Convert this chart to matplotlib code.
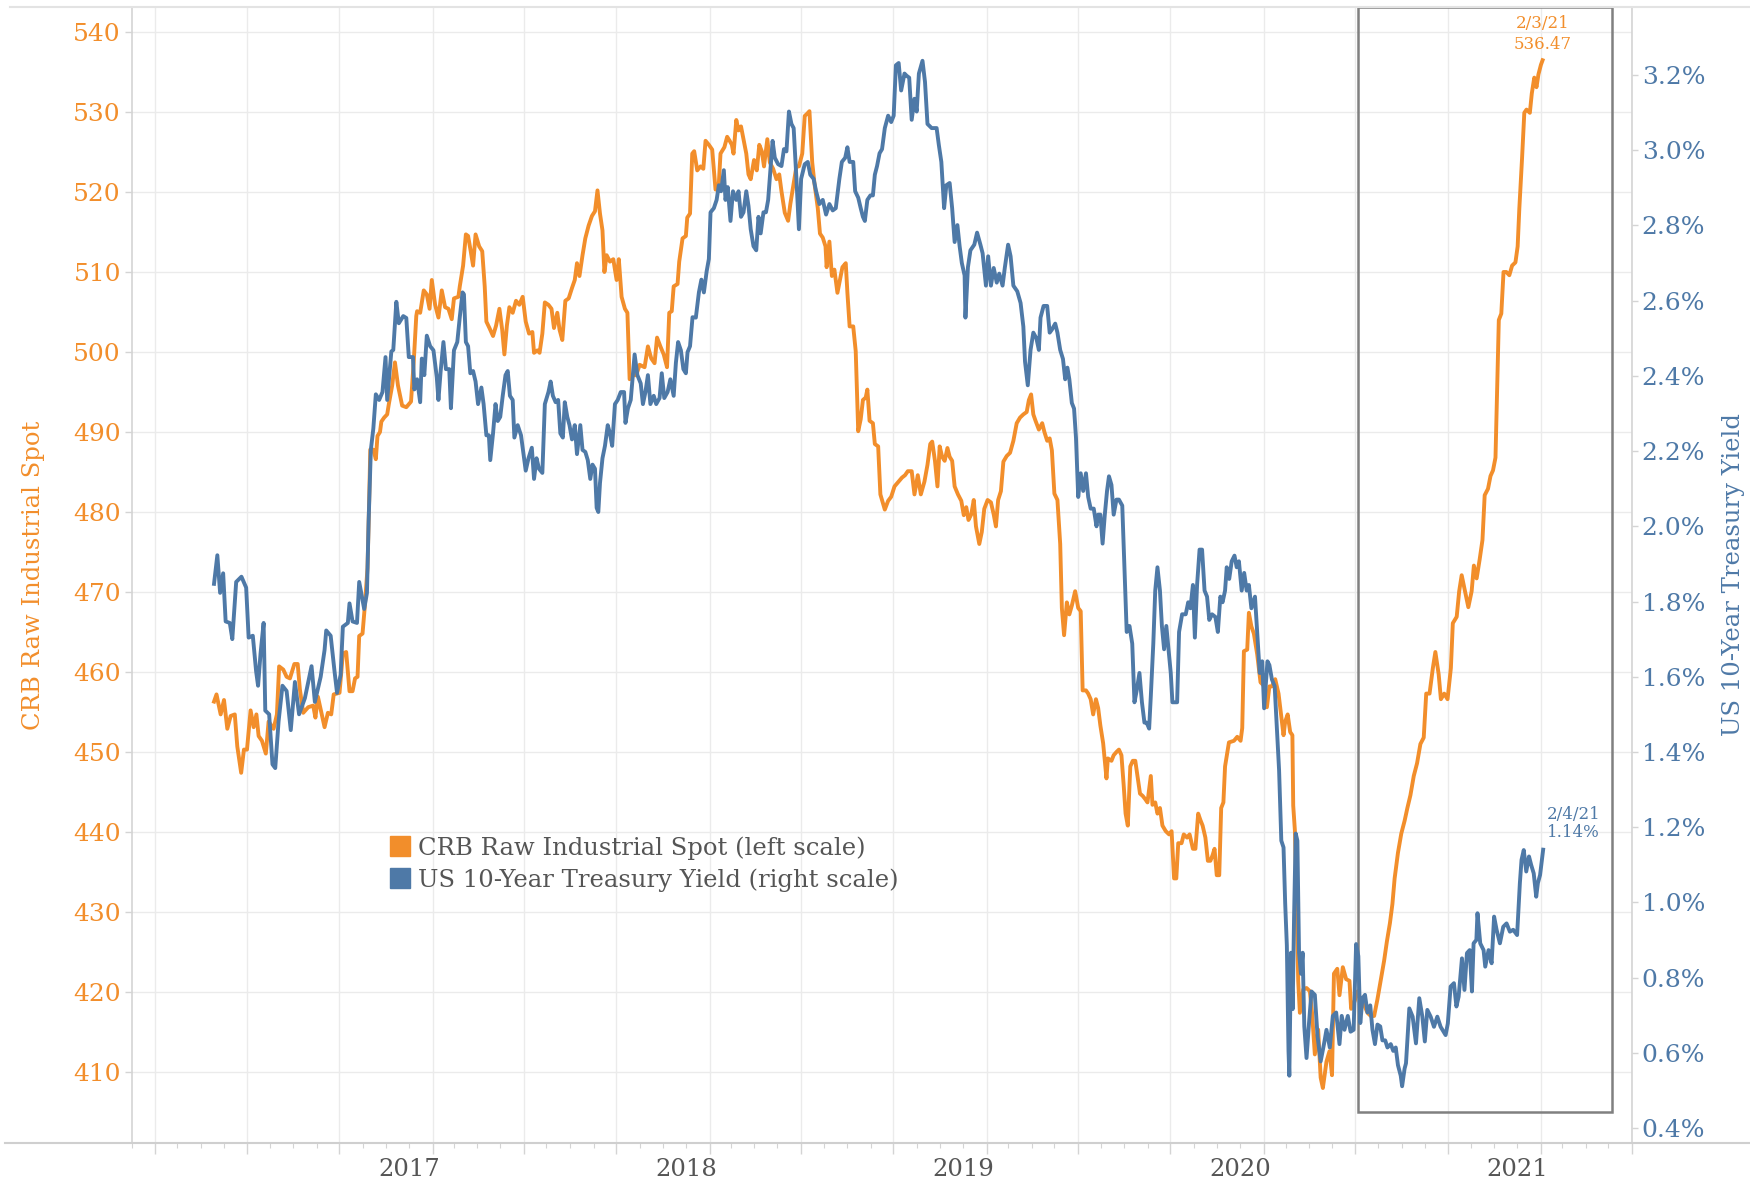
import matplotlib
matplotlib.use("Agg")
import matplotlib.pyplot as plt
import matplotlib.transforms as mtransforms
from matplotlib.lines import Line2D
from matplotlib.patches import Rectangle
import pandas as pd

# CRB Raw Industrial Spot index (left scale); x values are decimal years
crb_years = [
    2016.296, 2016.305, 2016.320, 2016.332, 2016.344, 2016.356, 2016.371, 2016.380, 2016.394, 2016.404,
    2016.415, 2016.428, 2016.439, 2016.449, 2016.457, 2016.469, 2016.483, 2016.493, 2016.511, 2016.523,
    2016.531, 2016.546, 2016.558, 2016.570, 2016.586, 2016.598, 2016.606, 2016.618, 2016.636, 2016.654,
    2016.662, 2016.671, 2016.695, 2016.707, 2016.719, 2016.728, 2016.749, 2016.761, 2016.773, 2016.785,
    2016.796, 2016.805, 2016.814, 2016.820, 2016.832, 2016.840, 2016.850, 2016.856, 2016.860, 2016.871,
    2016.880, 2016.886, 2016.895, 2016.900, 2016.910, 2016.921, 2016.927, 2016.939, 2016.949, 2016.960,
    2016.975, 2016.990, 2017.007, 2017.017, 2017.026,
    2017.029, 2017.040, 2017.053, 2017.064, 2017.074, 2017.082, 2017.094, 2017.106, 2017.118, 2017.130,
    2017.142, 2017.154, 2017.162, 2017.178, 2017.183, 2017.195, 2017.205, 2017.213, 2017.221, 2017.231,
    2017.240, 2017.253, 2017.264, 2017.273, 2017.279, 2017.290, 2017.303, 2017.314, 2017.326, 2017.336,
    2017.344, 2017.353, 2017.362, 2017.374, 2017.386, 2017.398, 2017.410, 2017.421, 2017.433, 2017.445,
    2017.451, 2017.463, 2017.471, 2017.481, 2017.490, 2017.503, 2017.514, 2017.523, 2017.535, 2017.543,
    2017.553, 2017.564, 2017.576, 2017.588, 2017.598, 2017.606, 2017.615, 2017.626, 2017.636, 2017.648,
    2017.660, 2017.671, 2017.680, 2017.689, 2017.698, 2017.705, 2017.713, 2017.725, 2017.737, 2017.749,
    2017.757, 2017.767, 2017.779, 2017.788, 2017.796, 2017.808, 2017.820, 2017.832, 2017.850, 2017.862,
    2017.874, 2017.886, 2017.895, 2017.907, 2017.919, 2017.931, 2017.939, 2017.948, 2017.955, 2017.969,
    2017.975, 2017.987, 2017.999, 2018.004, 2018.014, 2018.022,
    2018.029, 2018.040, 2018.052, 2018.062, 2018.070, 2018.082, 2018.094, 2018.106, 2018.118, 2018.124,
    2018.138, 2018.148, 2018.157, 2018.165, 2018.171, 2018.181, 2018.189, 2018.198, 2018.207, 2018.217,
    2018.225, 2018.233, 2018.245, 2018.255, 2018.264, 2018.273, 2018.281, 2018.293, 2018.302, 2018.314,
    2018.326, 2018.336, 2018.344, 2018.356, 2018.368, 2018.376, 2018.386, 2018.398, 2018.407, 2018.419,
    2018.428, 2018.437, 2018.445, 2018.455, 2018.463, 2018.475, 2018.483, 2018.493, 2018.503, 2018.507,
    2018.517, 2018.526, 2018.535, 2018.546, 2018.555, 2018.564, 2018.576, 2018.582, 2018.590, 2018.603,
    2018.612, 2018.621, 2018.630, 2018.638, 2018.648, 2018.654, 2018.662, 2018.674, 2018.681, 2018.693,
    2018.701, 2018.717, 2018.729, 2018.740, 2018.752, 2018.767, 2018.779, 2018.790, 2018.800, 2018.814,
    2018.824, 2018.836, 2018.847, 2018.860, 2018.871, 2018.881, 2018.888, 2018.898, 2018.907, 2018.915,
    2018.924, 2018.933, 2018.943, 2018.951, 2018.960, 2018.969, 2018.981, 2018.993, 2019.002, 2019.011,
    2019.019,
    2019.029, 2019.038, 2019.046, 2019.058, 2019.067, 2019.076, 2019.088, 2019.100, 2019.110, 2019.118,
    2019.126, 2019.136, 2019.145, 2019.157, 2019.169, 2019.181, 2019.193, 2019.205, 2019.217, 2019.229,
    2019.237, 2019.245, 2019.253, 2019.261, 2019.273, 2019.285, 2019.293, 2019.303, 2019.312, 2019.320,
    2019.329, 2019.340, 2019.350, 2019.356, 2019.364, 2019.374, 2019.383, 2019.392, 2019.404, 2019.415,
    2019.424, 2019.431, 2019.443, 2019.451, 2019.460, 2019.469, 2019.479, 2019.487, 2019.495, 2019.505,
    2019.517, 2019.522, 2019.535, 2019.543, 2019.553, 2019.562, 2019.571, 2019.579, 2019.586, 2019.594,
    2019.603, 2019.612, 2019.621, 2019.630, 2019.638, 2019.648, 2019.657, 2019.665, 2019.677, 2019.683,
    2019.693, 2019.701, 2019.710, 2019.719, 2019.731, 2019.743, 2019.752, 2019.761, 2019.769, 2019.776,
    2019.788, 2019.796, 2019.808, 2019.817, 2019.829, 2019.838, 2019.848, 2019.856, 2019.864, 2019.874,
    2019.883, 2019.892, 2019.900, 2019.907, 2019.915, 2019.924, 2019.931, 2019.939, 2019.945,
    2019.959, 2019.977, 2019.989, 2020.001, 2020.007, 2020.013, 2020.025, 2020.031, 2020.040, 2020.049,
    2020.061, 2020.073, 2020.088, 2020.096, 2020.105, 2020.114, 2020.126, 2020.138, 2020.147, 2020.156,
    2020.162, 2020.171, 2020.180, 2020.188, 2020.191, 2020.197, 2020.204, 2020.209, 2020.215, 2020.227,
    2020.239, 2020.251, 2020.259, 2020.269, 2020.281, 2020.290, 2020.298, 2020.311, 2020.322, 2020.331,
    2020.338, 2020.350, 2020.358, 2020.370, 2020.382, 2020.394, 2020.400, 2020.412, 2020.424, 2020.436,
    2020.448, 2020.459, 2020.471, 2020.483,
    2020.495, 2020.507, 2020.519, 2020.529, 2020.540, 2020.549, 2020.557, 2020.569, 2020.581, 2020.593,
    2020.603, 2020.614, 2020.626, 2020.638, 2020.650, 2020.662, 2020.671, 2020.683, 2020.695, 2020.704,
    2020.716, 2020.724, 2020.736, 2020.748, 2020.760, 2020.767, 2020.781, 2020.790, 2020.799, 2020.811,
    2020.823, 2020.835, 2020.843, 2020.853, 2020.864, 2020.874, 2020.882, 2020.894, 2020.903, 2020.912,
    2020.921, 2020.926, 2020.933, 2020.942, 2020.950, 2020.960, 2020.971, 2020.981, 2020.993, 2021.001,
    2021.007, 2021.017, 2021.025, 2021.033, 2021.045, 2021.052, 2021.061, 2021.069, 2021.076, 2021.085,
    2021.091,
]
crb_values = [
    456.3, 457.2, 454.7, 456.5, 452.9, 454.5, 454.7, 450.7, 447.4, 450.3,
    450.3, 455.2, 453.1, 454.7, 452.0, 451.4, 449.8, 453.8, 452.9, 454.7,
    460.7, 460.3, 459.4, 459.2, 461.0, 461.0, 457.8, 454.9, 455.6, 455.8,
    454.3, 456.9, 453.1, 454.9, 454.7, 457.2, 457.4, 462.3, 462.5, 457.6,
    457.6, 459.2, 459.4, 464.5, 464.8, 468.1, 473.0, 481.5, 487.8, 487.8,
    486.6, 489.5, 490.0, 491.3, 491.8, 492.2, 493.5, 495.8, 498.7, 495.8,
    493.3, 493.1, 493.8, 498.9, 504.5,
    505.1, 504.9, 507.7, 507.2, 505.4, 509.0, 505.9, 504.3, 507.7, 505.6,
    505.4, 504.1, 506.7, 506.9, 508.2, 510.8, 514.7, 514.5, 512.9, 510.8,
    514.7, 513.2, 512.6, 508.2, 503.8, 503.0, 502.0, 503.3, 505.4, 502.8,
    499.7, 503.3, 505.6, 504.9, 506.4, 505.9, 506.9, 503.8, 502.3, 502.5,
    499.9, 500.2, 499.9, 502.3, 506.2, 505.9, 505.4, 503.0, 504.9, 502.8,
    501.5, 506.4, 506.7, 508.0, 509.0, 511.1, 509.5, 512.1, 514.2, 515.8,
    517.0, 517.6, 520.2, 517.3, 515.2, 510.0, 512.1, 511.3, 511.6, 509.0,
    511.6, 506.9, 505.4, 504.9, 496.6, 497.1, 497.1, 498.4, 498.1, 500.7,
    499.2, 498.6, 501.8, 500.7, 499.7, 498.1, 504.9, 505.1, 508.2, 508.5,
    511.3, 514.2, 514.5, 516.8, 517.3, 524.8,
    525.1, 522.7, 523.2, 522.9, 526.4, 525.9, 525.3, 520.3, 521.1, 524.8,
    525.6, 526.9, 526.4, 525.9, 524.8, 529.0, 527.7, 528.2, 526.6, 524.8,
    522.2, 521.6, 524.0, 522.7, 525.9, 525.1, 523.2, 526.6, 523.7, 522.9,
    521.6, 522.2, 520.1, 517.4, 516.4, 518.5, 520.6, 523.2, 523.2, 524.8,
    529.5, 529.8, 530.1, 523.7, 521.1, 518.0, 514.8, 514.3, 513.2, 510.6,
    513.8, 509.5, 510.3, 507.4, 509.0, 510.6, 511.1, 507.4, 503.2, 503.2,
    500.1, 490.1, 491.6, 494.0, 494.3, 495.3, 491.4, 491.1, 488.5, 488.2,
    482.2, 480.3, 481.4, 481.9, 483.2, 483.8, 484.3, 484.6, 485.1, 485.1,
    482.2, 484.6, 482.2, 483.8, 485.9, 488.5, 488.8, 486.4, 483.2, 488.2,
    486.9, 486.4, 488.0, 486.9, 486.4, 483.2, 482.2, 481.4, 479.6, 480.6,
    479.0,
    479.7, 481.5, 478.2, 476.0, 477.5, 480.4, 481.5, 481.2, 479.7, 478.2,
    481.5, 482.6, 486.3, 487.0, 487.4, 488.9, 491.1, 491.8, 492.2, 492.5,
    494.0, 494.7, 492.2, 491.4, 490.3, 491.1, 490.0, 488.9, 489.2, 487.7,
    482.3, 481.5, 476.0, 468.0, 464.6, 468.7, 467.2, 468.3, 470.1, 468.0,
    467.6, 457.7, 457.7, 457.3, 456.6, 454.7, 456.6, 455.5, 453.3, 451.1,
    446.7, 449.2, 448.9, 449.6, 450.0, 450.3, 449.6, 445.9, 442.3, 440.8,
    448.2, 448.9, 448.9, 446.7, 444.8, 444.5, 444.1, 443.7, 447.0, 443.4,
    443.7, 442.3, 443.0, 440.8, 440.1, 439.7, 440.1, 434.2, 434.2, 438.6,
    438.6, 439.7, 439.3, 439.7, 437.9, 437.9, 442.3, 441.5, 440.8, 439.3,
    436.4, 436.4, 437.1, 437.9, 434.6, 434.6, 443.0, 443.7, 448.2,
    451.2, 451.4, 451.9, 451.4, 453.0, 462.6, 462.8, 467.4, 465.7, 464.8,
    462.2, 458.7, 458.2, 455.6, 458.2, 458.2, 459.1, 457.3, 454.7, 452.1,
    453.8, 454.7, 452.5, 452.1, 443.3, 440.2, 430.2, 421.4, 417.4, 420.3,
    420.5, 420.1, 417.4, 412.2, 415.3, 409.3, 408.0, 411.3, 412.6, 409.6,
    422.3, 422.9, 419.6, 423.1, 421.6, 421.4, 417.9, 418.8, 420.1, 418.8,
    418.3, 417.4, 417.0, 417.0,
    419.1, 421.5, 423.9, 426.3, 428.6, 431.0, 434.2, 437.4, 439.8, 441.4,
    443.0, 444.6, 447.0, 448.6, 451.0, 451.8, 457.3, 457.3, 460.5, 462.5,
    459.7, 456.6, 457.3, 456.6, 460.5, 466.1, 466.9, 470.1, 472.1, 470.1,
    468.1, 470.1, 473.3, 471.7, 474.1, 476.5, 482.1, 482.9, 484.5, 485.2,
    486.8, 494.0, 504.0, 504.8, 510.0, 510.0, 509.6, 510.8, 511.2, 513.2,
    517.9, 524.3, 529.9, 530.3, 529.9, 532.3, 534.3, 533.1, 534.7, 535.9,
    536.47,
]

# US 10-Year Treasury yield in percent (right scale); x values are decimal years
ust_years = [
    2016.296, 2016.308, 2016.318, 2016.329, 2016.338, 2016.353, 2016.362, 2016.376, 2016.395, 2016.412,
    2016.421, 2016.436, 2016.448, 2016.455, 2016.464, 2016.475, 2016.481, 2016.495, 2016.507, 2016.517,
    2016.529, 2016.543, 2016.558, 2016.573, 2016.588, 2016.603, 2016.624, 2016.648, 2016.660, 2016.681,
    2016.695, 2016.701, 2016.717, 2016.731, 2016.740, 2016.753, 2016.761, 2016.779, 2016.785, 2016.796,
    2016.812, 2016.820, 2016.838, 2016.848, 2016.854, 2016.862, 2016.871, 2016.880, 2016.892, 2016.904,
    2016.915, 2016.921, 2016.936, 2016.943, 2016.954, 2016.963, 2016.979, 2016.990, 2016.999, 2017.014,
    2017.019,
    2017.029, 2017.040, 2017.046, 2017.055, 2017.064, 2017.076, 2017.088, 2017.100, 2017.106, 2017.114,
    2017.124, 2017.133, 2017.145, 2017.151, 2017.162, 2017.174, 2017.183, 2017.193, 2017.198, 2017.205,
    2017.213, 2017.221, 2017.231, 2017.240, 2017.249, 2017.261, 2017.269, 2017.279, 2017.288, 2017.293,
    2017.303, 2017.312, 2017.320, 2017.329, 2017.338, 2017.348, 2017.356, 2017.364, 2017.374, 2017.380,
    2017.392, 2017.404, 2017.412, 2017.421, 2017.431, 2017.443, 2017.451, 2017.460, 2017.469, 2017.481,
    2017.490, 2017.503, 2017.511, 2017.519, 2017.529, 2017.538, 2017.546, 2017.555, 2017.562, 2017.571,
    2017.579, 2017.588, 2017.598, 2017.606, 2017.618, 2017.626, 2017.636, 2017.645, 2017.654, 2017.662,
    2017.671, 2017.677, 2017.683, 2017.689, 2017.698, 2017.707, 2017.717, 2017.725, 2017.733, 2017.743,
    2017.753, 2017.764, 2017.776, 2017.781, 2017.790, 2017.800, 2017.805, 2017.814, 2017.824, 2017.836,
    2017.844, 2017.853, 2017.862, 2017.871, 2017.883, 2017.892, 2017.904, 2017.912, 2017.921, 2017.933,
    2017.943, 2017.955, 2017.963, 2017.971, 2017.981, 2017.990, 2017.999, 2018.005, 2018.014, 2018.023,
    2018.035, 2018.046, 2018.055, 2018.064, 2018.074, 2018.082, 2018.088, 2018.100, 2018.110, 2018.118,
    2018.126, 2018.136, 2018.142, 2018.150, 2018.160, 2018.169, 2018.181, 2018.189, 2018.198, 2018.207,
    2018.217, 2018.225, 2018.233, 2018.243, 2018.253, 2018.261, 2018.269, 2018.279, 2018.288, 2018.296,
    2018.305, 2018.312, 2018.320, 2018.332, 2018.344, 2018.353, 2018.362, 2018.371, 2018.380, 2018.388,
    2018.398, 2018.407, 2018.415, 2018.428, 2018.439, 2018.448, 2018.460, 2018.469, 2018.481, 2018.493,
    2018.505, 2018.517, 2018.529, 2018.540, 2018.553, 2018.562, 2018.574, 2018.582, 2018.590, 2018.603,
    2018.610, 2018.621, 2018.630, 2018.638, 2018.645, 2018.654, 2018.665, 2018.674, 2018.681, 2018.689,
    2018.698, 2018.707, 2018.717, 2018.729, 2018.740, 2018.749, 2018.757, 2018.767, 2018.776, 2018.788,
    2018.796, 2018.805, 2018.814, 2018.824, 2018.832, 2018.840, 2018.853, 2018.862, 2018.871, 2018.886,
    2018.904, 2018.912, 2018.921, 2018.931, 2018.939, 2018.951, 2018.960, 2018.969, 2018.979, 2018.987,
    2018.995, 2019.005, 2019.008, 2019.017, 2019.026,
    2019.040, 2019.050, 2019.062, 2019.070, 2019.082, 2019.090, 2019.100, 2019.110, 2019.121, 2019.130,
    2019.142, 2019.150, 2019.162, 2019.171, 2019.181, 2019.195, 2019.207, 2019.217, 2019.223, 2019.233,
    2019.243, 2019.253, 2019.264, 2019.273, 2019.279, 2019.290, 2019.303, 2019.312, 2019.320, 2019.332,
    2019.340, 2019.350, 2019.360, 2019.368, 2019.376, 2019.383, 2019.392, 2019.400, 2019.407, 2019.415,
    2019.424, 2019.433, 2019.443, 2019.451, 2019.460, 2019.471, 2019.481, 2019.487, 2019.495, 2019.503,
    2019.511, 2019.519, 2019.526, 2019.535, 2019.543, 2019.553, 2019.562, 2019.574, 2019.582, 2019.590,
    2019.600, 2019.610, 2019.618, 2019.626, 2019.636, 2019.645, 2019.654, 2019.662, 2019.671, 2019.677,
    2019.686, 2019.693, 2019.701, 2019.710, 2019.717, 2019.725, 2019.733, 2019.743, 2019.749, 2019.755,
    2019.772, 2019.779, 2019.790, 2019.803, 2019.812, 2019.820, 2019.829, 2019.836, 2019.844, 2019.853,
    2019.862, 2019.871, 2019.880, 2019.888, 2019.898, 2019.910, 2019.919, 2019.928, 2019.936, 2019.945,
    2019.951, 2019.960, 2019.969, 2019.979, 2019.987, 2019.995, 2020.005, 2020.014, 2020.023, 2020.031,
    2020.040, 2020.053, 2020.062, 2020.070, 2020.079, 2020.086, 2020.098,
    2020.105, 2020.114, 2020.124, 2020.132, 2020.140, 2020.148, 2020.156, 2020.162, 2020.168, 2020.174,
    2020.177, 2020.183, 2020.189, 2020.194, 2020.200, 2020.206, 2020.212, 2020.219, 2020.225, 2020.231,
    2020.239, 2020.248, 2020.257, 2020.269, 2020.279, 2020.290, 2020.302, 2020.311, 2020.323, 2020.334,
    2020.346, 2020.358, 2020.366, 2020.376, 2020.388, 2020.398, 2020.409, 2020.418, 2020.426, 2020.433,
    2020.441, 2020.450, 2020.459, 2020.469, 2020.477, 2020.486, 2020.495, 2020.505, 2020.513, 2020.523,
    2020.531, 2020.543, 2020.552, 2020.561, 2020.569, 2020.579, 2020.584, 2020.593,
    2020.598, 2020.610, 2020.622, 2020.634, 2020.646, 2020.657, 2020.666, 2020.675, 2020.687, 2020.699,
    2020.711, 2020.723, 2020.741, 2020.749, 2020.759, 2020.771, 2020.780, 2020.788, 2020.800, 2020.809,
    2020.818, 2020.828, 2020.836, 2020.842, 2020.852, 2020.856, 2020.866, 2020.878, 2020.884, 2020.896,
    2020.907, 2020.916, 2020.925, 2020.937, 2020.949, 2020.961, 2020.973, 2020.985, 2020.999, 2021.009,
    2021.015, 2021.023, 2021.032, 2021.042, 2021.050, 2021.059, 2021.068, 2021.074, 2021.082, 2021.093,
]
ust_values = [
    1.847, 1.923, 1.823, 1.875, 1.747, 1.743, 1.700, 1.852, 1.866, 1.837,
    1.704, 1.709, 1.614, 1.576, 1.662, 1.743, 1.510, 1.500, 1.367, 1.357,
    1.481, 1.576, 1.562, 1.458, 1.586, 1.500, 1.543, 1.628, 1.533, 1.600,
    1.671, 1.723, 1.709, 1.614, 1.557, 1.605, 1.733, 1.743, 1.795, 1.747,
    1.743, 1.852, 1.780, 1.823, 2.013, 2.203, 2.260, 2.351, 2.336, 2.357,
    2.450, 2.336, 2.465, 2.469, 2.597, 2.540, 2.559, 2.554, 2.450, 2.450,
    2.364,
    2.391, 2.330, 2.446, 2.402, 2.507, 2.479, 2.468, 2.396, 2.336, 2.413,
    2.490, 2.418, 2.418, 2.314, 2.468, 2.490, 2.556, 2.622, 2.617, 2.490,
    2.479, 2.407, 2.413, 2.385, 2.325, 2.369, 2.325, 2.242, 2.242, 2.176,
    2.247, 2.325, 2.280, 2.291, 2.347, 2.402, 2.413, 2.347, 2.336, 2.236,
    2.269, 2.242, 2.198, 2.148, 2.181, 2.209, 2.126, 2.181, 2.153, 2.142,
    2.325, 2.357, 2.385, 2.347, 2.330, 2.336, 2.247, 2.236, 2.330, 2.291,
    2.269, 2.231, 2.269, 2.192, 2.269, 2.203, 2.198, 2.176, 2.126, 2.164,
    2.153, 2.049, 2.038, 2.115, 2.181, 2.214, 2.269, 2.247, 2.214, 2.325,
    2.336, 2.357, 2.357, 2.275, 2.314, 2.336, 2.380, 2.457, 2.402, 2.380,
    2.325, 2.357, 2.402, 2.325, 2.347, 2.325, 2.341, 2.407, 2.341, 2.357,
    2.391, 2.347, 2.435, 2.490, 2.468, 2.418, 2.407, 2.463, 2.479, 2.556,
    2.555, 2.622, 2.656, 2.622, 2.678, 2.711, 2.835, 2.846, 2.868, 2.907,
    2.891, 2.947, 2.868, 2.902, 2.812, 2.891, 2.868, 2.891, 2.823, 2.835,
    2.891, 2.852, 2.790, 2.745, 2.734, 2.823, 2.779, 2.835, 2.835, 2.868,
    2.958, 3.025, 2.980, 2.963, 2.958, 3.003, 2.997, 3.103, 3.070, 3.059,
    2.924, 2.790, 2.924, 2.963, 2.969, 2.935, 2.924, 2.891, 2.857, 2.868,
    2.829, 2.857, 2.840, 2.846, 2.924, 2.969, 2.980, 3.008, 2.969, 2.969,
    2.891, 2.874, 2.846, 2.823, 2.812, 2.868, 2.880, 2.880, 2.935, 2.958,
    2.992, 3.003, 3.059, 3.092, 3.075, 3.092, 3.226, 3.232, 3.159, 3.204,
    3.198, 3.193, 3.081, 3.137, 3.103, 3.204, 3.238, 3.182, 3.070, 3.059,
    3.059, 3.014, 2.969, 2.846, 2.907, 2.913, 2.846, 2.756, 2.801, 2.745,
    2.700, 2.667, 2.555, 2.689, 2.734,
    2.749, 2.781, 2.749, 2.726, 2.640, 2.718, 2.640, 2.687, 2.648, 2.672,
    2.640, 2.687, 2.749, 2.718, 2.640, 2.625, 2.594, 2.531, 2.438, 2.375,
    2.469, 2.515, 2.500, 2.469, 2.555, 2.586, 2.586, 2.515, 2.523, 2.539,
    2.515, 2.469, 2.445, 2.391, 2.422, 2.391, 2.328, 2.313, 2.235, 2.078,
    2.141, 2.094, 2.141, 2.078, 2.047, 2.047, 2.000, 2.031, 2.031, 1.954,
    2.031, 2.094, 2.133, 2.110, 2.031, 2.071, 2.071, 2.055, 1.891, 1.719,
    1.735, 1.688, 1.532, 1.563, 1.610, 1.532, 1.478, 1.478, 1.462, 1.548,
    1.688, 1.829, 1.891, 1.829, 1.735, 1.673, 1.735, 1.657, 1.610, 1.532,
    1.532, 1.719, 1.766, 1.766, 1.798, 1.782, 1.844, 1.704, 1.844, 1.938,
    1.938, 1.829, 1.813, 1.751, 1.766, 1.759, 1.719, 1.813, 1.798, 1.829,
    1.891, 1.860, 1.907, 1.922, 1.891, 1.907, 1.829, 1.876, 1.829, 1.844,
    1.782, 1.813, 1.704, 1.610, 1.641, 1.516, 1.641,
    1.631, 1.593, 1.575, 1.463, 1.351, 1.164, 1.146, 0.997, 0.885, 0.605,
    0.539, 0.866, 0.716, 0.959, 1.183, 1.164, 0.866, 0.810, 0.866, 0.670,
    0.586, 0.679, 0.763, 0.754, 0.642, 0.577, 0.623, 0.661, 0.614, 0.698,
    0.707, 0.623, 0.698, 0.661, 0.698, 0.656, 0.661, 0.889, 0.857, 0.679,
    0.745, 0.754, 0.707, 0.726, 0.661, 0.623, 0.675, 0.670, 0.633, 0.633,
    0.614, 0.623, 0.605, 0.614, 0.567, 0.539, 0.511, 0.558,
    0.572, 0.718, 0.696, 0.625, 0.745, 0.696, 0.630, 0.714, 0.696, 0.669,
    0.696, 0.669, 0.647, 0.678, 0.776, 0.785, 0.723, 0.749, 0.851, 0.767,
    0.865, 0.873, 0.763, 0.891, 0.900, 0.971, 0.891, 0.873, 0.829, 0.873,
    0.838, 0.962, 0.927, 0.891, 0.935, 0.944, 0.922, 0.927, 0.913, 1.051,
    1.113, 1.139, 1.082, 1.122, 1.099, 1.077, 1.015, 1.051, 1.073, 1.14,
]

assert len(crb_years) == len(crb_values)
assert len(ust_years) == len(ust_values)

crb_last = ("2/3/21", "536.47")
ust_last = ("2/4/21", "1.14%")

# highlighted window: June 2020 onwards
box_start, box_end, box_floor = 2020.425, 2021.340, 0.443

left_ticks = list(range(410, 541, 10))
right_ticks = [0.4, 0.6, 0.8, 1.0, 1.2, 1.4, 1.6, 1.8, 2.0, 2.2, 2.4, 2.6, 2.8, 3.0, 3.2]
year_labels = [2017, 2018, 2019, 2020, 2021]

ORANGE = "#F28E2B"
BLUE = "#4E79A7"
GRID = "#EBEBEB"
AXIS = "#D4D4D4"
TEXT = "#555555"

plt.rcParams['font.family'] = ['DejaVu Serif']


def dec_year(ts):
    days = 366 if ts.is_leap_year else 365
    return ts.year + (ts.dayofyear - 1) / days


W, H = 1750, 1185
fig = plt.figure(figsize=(W / 100, H / 100), dpi=100)
ax = fig.add_axes([132 / W, 1 - 1143 / H, 1500 / W, 1136 / H])
ax2 = ax.twinx()

ax.plot(crb_years, crb_values, color=ORANGE, lw=2.8, solid_joinstyle='round', zorder=3)
ax2.plot(ust_years, ust_values, color=BLUE, lw=2.8, solid_joinstyle='round', zorder=3)

ax.set_xlim(2016.036, 2021.393)
ax.set_ylim(401.125, 543.125)
ax2.set_ylim(0.360, 3.381)

# x ticks: every 4 months (Feb/Jun/Oct) with monthly minor ticks
major = [dec_year(d) for d in pd.date_range('2016-02-01', '2021-06-01', freq='4MS')]
minor = [dec_year(d) for d in pd.date_range('2016-01-01', '2021-06-01', freq='MS')]
ax.set_xticks(major)
ax.set_xticks(minor, minor=True)
ax.set_xticklabels([])
ax.tick_params(axis='x', which='major', length=8, width=1, color=AXIS)
ax.tick_params(axis='x', which='minor', length=3.5, width=0.8, color=AXIS)

ax.set_yticks(left_ticks)
ax.set_yticklabels([str(v) for v in left_ticks])
ax.tick_params(axis='y', length=5, width=1, color=AXIS, labelcolor=ORANGE, labelsize=18, pad=3)

ax2.set_yticks(right_ticks)
ax2.set_yticklabels([f"{v:.1f}%" for v in right_ticks])
ax2.tick_params(axis='y', length=4, width=1, color=AXIS, labelcolor=BLUE, labelsize=18, pad=3)

ax.grid(True, which='major', color=GRID, lw=1.0)
ax.set_axisbelow(True)

for a in (ax, ax2):
    for side in ('top', 'bottom'):
        a.spines[side].set_visible(False)
ax.spines['right'].set_visible(False)
ax2.spines['left'].set_visible(False)
ax.spines['left'].set_color(AXIS)
ax2.spines['right'].set_color(AXIS)
ax.spines['left'].set_linewidth(1.2)
ax2.spines['right'].set_linewidth(1.2)

# pane borders that run across the whole figure
fig.add_artist(Line2D([10 / W, 1], [1 - 7 / H] * 2, color="#E3E3E3", lw=1.5))
fig.add_artist(Line2D([5 / W, 1], [1 - 1143 / H] * 2, color="#CFCFCF", lw=1.5))

ax.set_ylabel("CRB Raw Industrial Spot", color=ORANGE, fontsize=17.5, labelpad=20)
ax2.set_ylabel("US 10-Year Treasury Yield", color=BLUE, fontsize=17.5, labelpad=12)

year_tr = mtransforms.blended_transform_factory(ax.transData, fig.transFigure)
for yr in year_labels:
    ax.text(yr, 1 - 1170 / H, str(yr), transform=year_tr, ha='center', va='center',
            fontsize=17.5, color=TEXT)

# highlight box
ax2.add_patch(Rectangle((box_start, box_floor), box_end - box_start, 3.381 - box_floor,
                        fill=False, edgecolor="#808080", lw=1.8, zorder=2, clip_on=False))

# end-point labels
ax2.annotate("\n".join(ust_last), (ust_years[-1], ust_values[-1]), xytext=(22, 6),
             textcoords='offset points', ha='center', va='bottom', fontsize=12,
             color=BLUE, linespacing=1.1)
ax.annotate("\n".join(crb_last), (crb_years[-1], crb_values[-1]), xytext=(0, 5),
            textcoords='offset points', ha='center', va='bottom', fontsize=12,
            color=ORANGE, linespacing=1.35)

handles = [Line2D([0], [0], marker='s', ls='none', color=ORANGE, markersize=14),
           Line2D([0], [0], marker='s', ls='none', color=BLUE, markersize=14)]
leg = ax.legend(handles, ["CRB Raw Industrial Spot (left scale)",
                          "US 10-Year Treasury Yield (right scale)"],
                loc='upper left', bbox_to_anchor=(390 / W, 1 - 836 / H),
                bbox_transform=fig.transFigure, frameon=False, borderpad=0,
                borderaxespad=0, handlelength=0.8, handletextpad=0.35,
                labelspacing=0.35, fontsize=17.5)
for t in leg.get_texts():
    t.set_color(TEXT)

fig.savefig("out.png", dpi=100)
